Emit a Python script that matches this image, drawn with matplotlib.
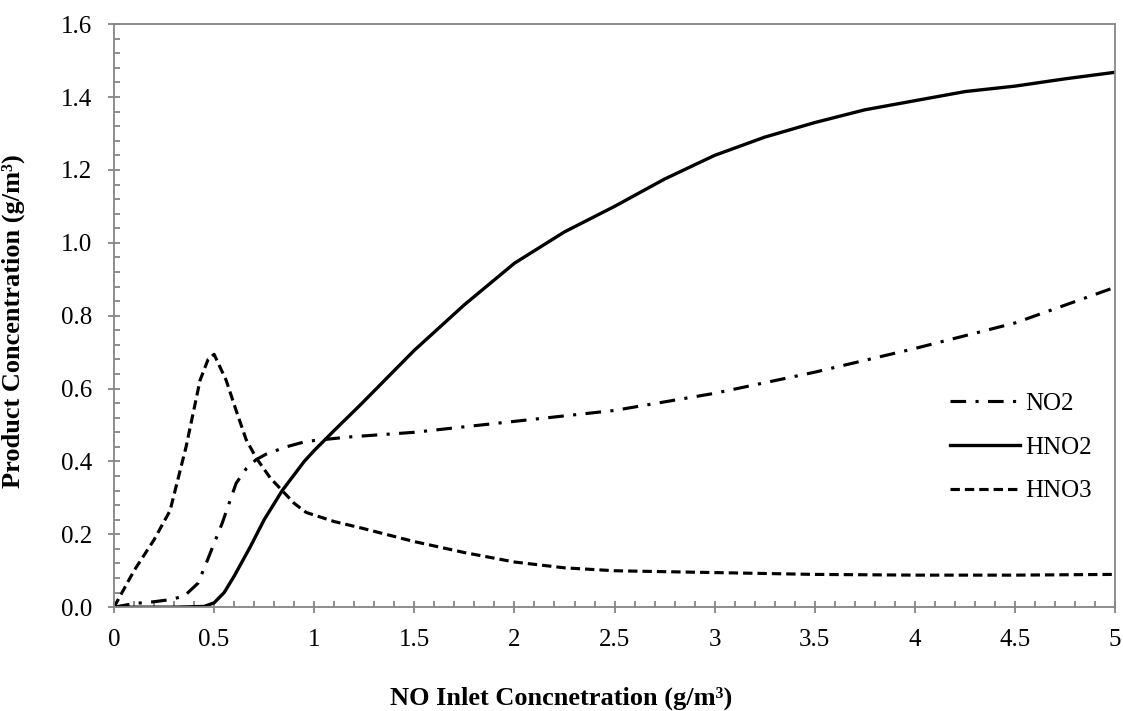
import matplotlib.pyplot as plt
from matplotlib.ticker import MultipleLocator
import numpy as np

plt.rcParams['font.family'] = ['Liberation Serif', 'DejaVu Serif']

# NO inlet concentration (g/m3) vs product concentrations (g/m3)
x_no2 = [0, 0.1, 0.2, 0.27, 0.35, 0.42, 0.46, 0.54, 0.61, 0.66, 0.71, 0.76, 0.86, 0.96,
         1.17, 1.5, 2.0, 2.5, 3.0, 3.5, 4.0, 4.5, 5.0]
y_no2 = [0, 0.01, 0.015, 0.02, 0.03, 0.066, 0.12, 0.23, 0.34, 0.38, 0.405, 0.42, 0.44,
         0.455, 0.467, 0.48, 0.51, 0.54, 0.587, 0.645, 0.71, 0.78, 0.878]

x_hno2 = [0, 0.3, 0.45, 0.5, 0.55, 0.6, 0.68, 0.75, 0.84, 0.95, 1.0, 1.1, 1.23, 1.5, 1.75,
          2.0, 2.25, 2.5, 2.75, 3.0, 3.25, 3.5, 3.75, 4.0, 4.25, 4.5, 4.75, 5.0]
y_hno2 = [0, 0, 0.002, 0.012, 0.04, 0.085, 0.165, 0.24, 0.32, 0.40, 0.43, 0.485, 0.555,
          0.705, 0.83, 0.944, 1.03, 1.10, 1.175, 1.24, 1.29, 1.33, 1.365, 1.39, 1.415,
          1.43, 1.45, 1.468]

x_hno3 = [0, 0.1, 0.2, 0.28, 0.36, 0.43, 0.47, 0.5, 0.56, 0.61, 0.66, 0.71, 0.78, 0.84,
          0.9, 0.96, 1.1, 1.23, 1.5, 1.75, 2.0, 2.25, 2.5, 3.0, 3.5, 4.0, 4.5, 5.0]
y_hno3 = [0, 0.1, 0.185, 0.265, 0.44, 0.623, 0.68, 0.694, 0.623, 0.54, 0.46, 0.41, 0.355,
          0.32, 0.285, 0.26, 0.235, 0.218, 0.18, 0.15, 0.124, 0.108, 0.10, 0.095, 0.09,
          0.088, 0.088, 0.09]

tick_labels_x = ['0', '0.5', '1', '1.5', '2', '2.5', '3', '3.5', '4', '4.5', '5']

fig = plt.figure(figsize=(11.23, 7.11), dpi=100)
ax = fig.add_axes([0.1015, 0.146, 0.8915, 0.82])

ax.plot(x_no2, y_no2, color='black', lw=2.25, linestyle=(0, (5, 3, 1, 3)), label='NO2')
ax.plot(x_hno2, y_hno2, color='black', lw=2.4, linestyle='-', label='HNO2')
ax.plot(x_hno3, y_hno3, color='black', lw=2.25, linestyle=(0, (3, 1.6)), label='HNO3')

ax.set_xlim(0, 5)
ax.set_ylim(0, 1.6)
ax.xaxis.set_minor_locator(MultipleLocator(0.1))
ax.yaxis.set_minor_locator(MultipleLocator(0.04))
ax.set_xticks(np.arange(0, 5.01, 0.5))
ax.set_xticklabels(tick_labels_x)
ax.set_yticks(np.arange(0, 1.61, 0.2))
ax.set_yticklabels(['%.1f' % v for v in np.arange(0, 1.61, 0.2)])

for s in ax.spines.values():
    s.set_color('#868686')
    s.set_linewidth(1.3)
ax.tick_params(which='major', direction='inout', length=8, width=1.3, color='#868686',
               labelsize=18)
ax.tick_params(axis='y', which='major', pad=12)
ax.tick_params(axis='x', which='major', pad=12)
ax.tick_params(which='minor', direction='in', length=4, width=1.3, color='#868686')

ax.set_xlabel('NO Inlet Concnetration (g/m³)', fontsize=19, fontweight='bold')
ax.xaxis.set_label_coords(0.447, -0.137)
ax.set_ylabel('Product Concentration (g/m³)', fontsize=19, fontweight='bold')
ax.yaxis.set_label_coords(-0.089, 0.49)

ax.legend(loc='center left', bbox_to_anchor=(0.813, 0.274), frameon=False, fontsize=18,
          handlelength=2.8, handletextpad=0.2, labelspacing=0.85)

fig.savefig('out.png', dpi=100)
